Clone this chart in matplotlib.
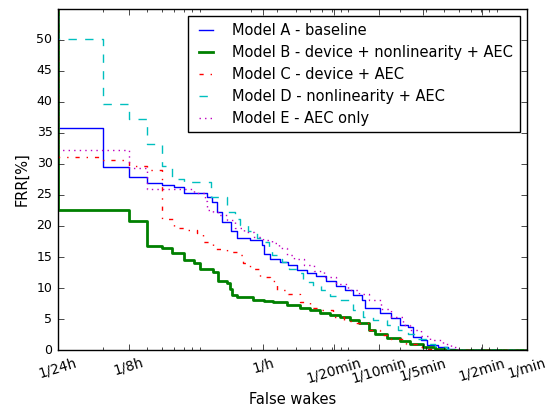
import matplotlib
matplotlib.use("Agg")
import matplotlib.pyplot as plt
import matplotlib.ticker as mticker
import numpy as np

# x values are false wakes per day, y values are FRR in %

model_a_x = [1, 2, 3, 4, 5, 6, 7, 10, 10.9, 11.8, 12.8, 14.7, 16, 19.6, 23.6, 24.5,
             26.7, 31.1, 35.4, 40.5, 47.2, 55, 64, 74, 86, 97, 111, 117, 147, 176,
             200, 228, 246, 280, 303, 362, 424, 468]
model_a_y = [35.8, 29.5, 27.9, 26.9, 26.6, 26.3, 25.4, 24.6, 23.9, 22.2, 20.6, 19.2,
             18.1, 17.7, 16.9, 15.5, 14.6, 14.2, 13.7, 12.9, 12.4, 12.0, 11.2, 10.4,
             9.6, 8.8, 8.0, 6.8, 5.9, 5.1, 4.0, 3.7, 2.1, 1.6, 0.8, 0.5, 0.2, 0.0]

model_b_x = [1, 3, 4, 5, 5.9, 7, 8.2, 9, 11.1, 12, 13.7, 14.4, 14.9, 16, 20.6, 24.2,
             28, 34.6, 42.6, 50, 58, 68, 79, 92, 107, 125, 136, 163, 200, 233, 287,
             346, 402]
model_b_y = [22.6, 20.8, 16.7, 16.4, 15.6, 14.5, 14.0, 13.0, 12.6, 11.2, 10.8, 9.9,
             8.8, 8.5, 8.1, 7.9, 7.7, 7.2, 6.7, 6.4, 5.9, 5.6, 5.3, 4.8, 4.4, 3.3,
             2.6, 2.0, 1.5, 1.0, 0.5, 0.15, 0.0]

model_c_x = [1, 1.9, 3, 4, 5, 6, 7, 8.6, 9.5, 11.1, 13.7, 16, 17.7, 19.6, 22.9, 26.7,
             29.8, 35.5, 42.6, 50, 59.3, 71.6, 83.7, 97.6, 125, 147, 176, 221, 261,
             303, 330]
model_c_y = [31.2, 30.6, 29.7, 29.0, 21.1, 19.6, 19.3, 18.8, 17.4, 16.3, 15.8, 15.3,
             14.0, 13.0, 11.8, 11.1, 9.6, 9.0, 7.7, 6.8, 6.4, 5.3, 4.7, 4.4, 3.3, 2.4,
             1.8, 1.0, 0.5, 0.2, 0.0]

model_d_x = [1, 2, 3, 4, 5, 5.9, 7, 10.8, 13.7, 15.5, 16.8, 19.1, 21.8, 24.1, 26.5,
             27.5, 29.8, 32, 35.7, 41.7, 44.8, 52, 59.3, 68, 77, 97.6, 114, 133, 163,
             195, 228, 260, 303, 346, 414, 453]
model_d_y = [50.1, 39.6, 37.2, 33.3, 29.6, 27.6, 27.1, 24.6, 22.3, 21.2, 20.1, 19.2,
             18.1, 17.4, 16.2, 15.3, 14.7, 14.2, 13.1, 12.4, 11.0, 10.3, 9.6, 8.7,
             8.1, 6.4, 5.4, 4.8, 4.0, 3.2, 2.6, 1.8, 1.0, 0.5, 0.1, 0.0]

model_e_x = [1, 3, 4, 8.2, 9.8, 10.1, 11, 12, 13.7, 15.5, 18, 21, 24, 27.5, 31, 34.6,
             39, 45, 53, 62, 75, 90, 107, 125, 150, 176, 210, 233, 280, 320, 390,
             440, 490, 510]
model_e_y = [32.2, 29.3, 25.9, 25.3, 24.1, 22.5, 22.3, 21.7, 20.9, 19.6, 19.0, 18.3,
             17.7, 17.2, 16.4, 15.4, 14.6, 13.7, 12.8, 11.8, 10.6, 9.6, 9.0, 8.0,
             6.6, 5.3, 4.1, 3.2, 2.3, 1.6, 1.0, 0.5, 0.2, 0.0]

tick_positions = [1, 3, 24, 72, 144, 288, 720, 1440]
tick_labels = ["1/24h", "1/8h", "1/h", "1/20min", "1/10min", "1/5min", "1/2min", "1/min"]

series = [
    (model_a_x, model_a_y, "Model A - baseline", "b", "-", 1.0),
    (model_b_x, model_b_y, "Model B - device + nonlinearity + AEC", "g", "-", 2.0),
    (model_c_x, model_c_y, "Model C - device + AEC", "r", "-.", 1.0),
    (model_d_x, model_d_y, "Model D - nonlinearity + AEC", "c", "--", 1.0),
    (model_e_x, model_e_y, "Model E - AEC only", "m", ":", 1.0),
]

plt.style.use("classic")

fig = plt.figure(figsize=(5.59, 4.07), dpi=100, facecolor="white")
ax = fig.add_axes([0.1038, 0.140, 0.839, 0.838])

for xs, ys, label, color, ls, lw in series:
    # curves come down from the top at the left edge and run on along zero
    xs = [0.5] + list(xs) + [2000]
    ys = [100] + list(ys) + [0.0]
    ax.step(xs, ys, where="post", color=color, linestyle=ls, linewidth=lw, label=label)

ax.set_xscale("log")
ax.set_xlim(1, 1440)
ax.set_ylim(0, 55)
ax.xaxis.set_major_locator(mticker.FixedLocator(tick_positions))
ax.xaxis.set_major_formatter(mticker.FixedFormatter(tick_labels))
ax.xaxis.set_minor_locator(mticker.LogLocator(base=10, subs=np.arange(2, 10)))
ax.xaxis.set_minor_formatter(mticker.NullFormatter())
ax.set_yticks(np.arange(0, 55, 5))

ax.tick_params(axis="y", which="major", labelsize=9)
ax.tick_params(axis="x", which="major", labelsize=9.8)
for lbl in ax.get_xticklabels():
    lbl.set_rotation(17)
    lbl.set_ha("center")

ax.set_xlabel("False wakes", fontsize=10.5)
ax.set_ylabel("FRR[%]", fontsize=10.5)

ax.legend(loc="upper right", fontsize=10.5, handlelength=1.6, handletextpad=1.0,
          borderpad=0.45, labelspacing=0.48, borderaxespad=0.5, numpoints=2)

fig.savefig("out.png", dpi=100, facecolor="white")
